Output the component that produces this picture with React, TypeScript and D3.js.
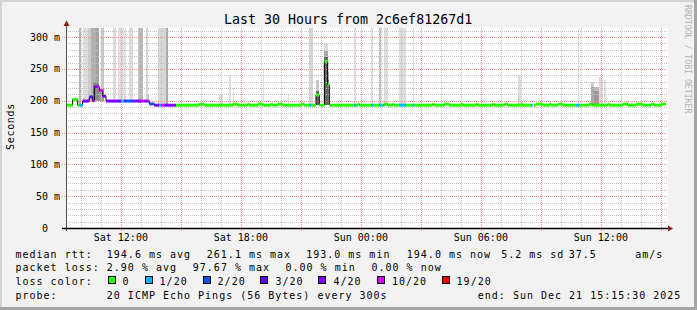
import React from 'react';
import * as d3 from 'd3';

const WIDTH = 697;
const HEIGHT = 310;

const startTime = new Date(2025, 11, 20, 9, 15, 30);
const endTime = new Date(2025, 11, 21, 15, 15, 30);
const stepMinutes = 5;
const yMaxMs = 314.3;

const titleText = 'Last 30 Hours from 2c6ef81267d1';
const yAxisTitle = 'Seconds';
const watermark = 'RRDTOOL / TOBI OETIKER';

const yMajorTicks = [0, 50, 100, 150, 200, 250, 300];
const yMajorLabels = ['0', '50 m', '100 m', '150 m', '200 m', '250 m', '300 m'];

const lossLabels = ['0', '1/20', '2/20', '3/20', '4/20', '10/20', '19/20'];
const lossColors = ['#26ff00', '#00b8ff', '#0059ff', '#5e00ff', '#7e00ff', '#dd00ff', '#ff0000'];

// median rtt (ms): flat level, slightly higher steps, loss blips, events
const baseRtt = 193;
const bumpRtt = 194.6;
// [startMin, endMin]
const bumps: [number, number][] = [
  [400, 415], [500, 515], [545, 550], [575, 590], [615, 620], [635, 650], [705, 715],
  [875, 880], [955, 965], [980, 985], [1100, 1105], [1135, 1150], [1185, 1190], [1230, 1235],
  [1280, 1285], [1315, 1325], [1365, 1370], [1410, 1430], [1450, 1455], [1475, 1490],
  [1570, 1580], [1625, 1630], [1670, 1685], [1710, 1730], [1755, 1765], [1785, 1800],
];
// [startMin, endMin, lossIndex]
const lossBlips: [number, number, number][] = [
  [730, 735, 1], [865, 870, 1], [915, 920, 1], [940, 945, 1], [950, 955, 1],
  [1000, 1020, 1], [1040, 1045, 1], [1395, 1400, 1], [1530, 1540, 1],
];
// [startMin, endMin, medianMs, lossIndex]
const events: [number, number, number, number][] = [
  [20, 35, 202, 0], [35, 40, 193, 0], [40, 50, 193, 1], [50, 70, 199.5, 4],
  [70, 80, 206, 3], [80, 85, 200, 4], [85, 95, 222, 4], [95, 100, 222, 5],
  [100, 110, 216, 5], [110, 120, 207, 4], [120, 165, 199.5, 4], [165, 175, 199.5, 1],
  [175, 180, 199.5, 4], [180, 200, 199.5, 2], [200, 225, 199.5, 4], [225, 235, 199.5, 5],
  [235, 245, 199.5, 4], [245, 250, 199.5, 5], [250, 265, 195, 2], [265, 280, 193, 4],
  [280, 285, 193, 1], [285, 295, 193, 5], [295, 330, 193, 4],
  [750, 760, 209, 0], [775, 785, 262, 0], [785, 790, 225, 0],
];
const gaps: [number, number][] = [[1400, 1405]];

// smoke: [startMin, endMin, lowMs, highMs, gray]
const smoke: [number, number, number, number, string][] = [
  [40, 45, 193, 330, '#b4b4b4'], [50, 65, 196, 330, '#dcdcdc'], [65, 75, 198, 330, '#cccccc'],
  [75, 90, 198, 330, '#b0b0b0'], [90, 100, 200, 330, '#a4a4a4'], [105, 115, 198, 330, '#c8c8c8'],
  [80, 100, 201, 230, '#888888'], [100, 115, 199, 220, '#9a9a9a'],
  [140, 150, 197, 330, '#dcdcdc'], [155, 180, 197, 330, '#e0e0e0'], [190, 200, 197, 330, '#dcdcdc'],
  [215, 220, 197, 330, '#cccccc'], [220, 230, 197, 330, '#b4b4b4'], [240, 245, 197, 330, '#d4d4d4'],
  [245, 250, 197, 209, '#bbbbbb'], [275, 300, 192, 330, '#d8d8d8'], [300, 305, 192, 330, '#a8a8a8'],
  [410, 415, 192, 201, '#dddddd'], [460, 470, 192, 210, '#dddddd'], [490, 495, 192, 240, '#dddddd'],
  [500, 505, 192, 220, '#dddddd'], [590, 595, 192, 251, '#dddddd'], [665, 670, 192, 209, '#dddddd'],
  [730, 740, 192, 330, '#d4d4d4'],
  [750, 760, 193, 232, '#c8c8c8'], [750, 760, 193, 215, '#666666'],
  [775, 785, 193, 290, '#d8d8d8'], [775, 785, 193, 278, '#aaaaaa'], [775, 785, 193, 268, '#666666'],
  [785, 790, 193, 245, '#c8c8c8'], [785, 790, 193, 232, '#888888'],
  [865, 870, 192, 330, '#dddddd'], [915, 920, 192, 330, '#dddddd'], [940, 945, 192, 330, '#c0c0c0'],
  [950, 955, 192, 201, '#dddddd'], [955, 965, 192, 330, '#dddddd'], [1000, 1020, 192, 330, '#dddddd'],
  [1040, 1045, 192, 330, '#dddddd'], [1355, 1365, 192, 240, '#dddddd'], [1355, 1360, 192, 205, '#bbbbbb'],
  [1535, 1540, 192, 330, '#dddddd'], [1575, 1585, 192, 230, '#cccccc'], [1575, 1585, 192, 222, '#aaaaaa'],
  [1585, 1600, 192, 222, '#bbbbbb'], [1585, 1600, 192, 216, '#999999'], [1600, 1610, 192, 237, '#dddddd'],
  [1615, 1620, 192, 232, '#dddddd'], [1680, 1685, 192, 201, '#dddddd'], [1695, 1700, 192, 200, '#dddddd'],
];

// legend texts
const rttItems = ['median rtt:', '194.6 ms avg', '261.1 ms max', '193.0 ms min', '194.0 ms now', '5.2 ms sd', '37.5', 'am/s'];
const lossItems = ['packet loss:', '2.90 % avg', '97.67 % max', '0.00 % min', '0.00 % now'];
const colorTitle = 'loss color:';
const probeItems = ['probe:', '20 ICMP Echo Pings (56 Bytes) every 300s', 'end: Sun Dec 21 15:15:30 2025'];

// layout
const rttX = [15.5, 106.8, 206.8, 306.2, 406.8, 501.2, 568.8, 635.2];
const lossX = [15.5, 106.8, 192.8, 285.5, 371.5];
const boxX = [108.5, 145.5, 203, 260.5, 318.5, 377, 442];
const boxLabelX = [122.6, 159.6, 217.6, 275.4, 333.4, 392, 456.6];
const probeX = [15.5, 106.8, 477.8];
const rowY = [257.5, 271.3, 285.2, 299];

const PLOT = { left: 66, right: 666, top: 28, bottom: 228 };
const MONO = '"DejaVu Sans Mono", monospace';

export default function App() {
  const x = d3.scaleTime().domain([startTime, endTime]).range([PLOT.left, PLOT.right]);
  const y = d3.scaleLinear().domain([0, yMaxMs]).range([PLOT.bottom, PLOT.top]);
  const tm = (m: number) => new Date(startTime.getTime() + m * 60000);
  const xm = (m: number) => x(tm(m));

  const nSteps = Math.round((endTime.getTime() - startTime.getTime()) / 60000 / stepMinutes);
  const steps = d3.range(nSteps).map((i) => ({ t0: i * stepMinutes, t1: (i + 1) * stepMinutes, v: baseRtt, loss: 0, ok: true }));
  const apply = (a: number, b: number, fn: (s: any) => void) => steps.forEach((s) => { if (s.t0 >= a && s.t1 <= b) fn(s); });
  bumps.forEach(([a, b]) => apply(a, b, (s) => { s.v = bumpRtt; }));
  lossBlips.forEach(([a, b, l]) => apply(a, b, (s) => { s.loss = l; }));
  events.forEach(([a, b, v, l]) => apply(a, b, (s) => { s.v = v; s.loss = l; }));
  gaps.forEach(([a, b]) => apply(a, b, (s) => { s.ok = false; }));

  // runs of equal value & color
  const runs: { t0: number; t1: number; v: number; loss: number }[] = [];
  steps.forEach((s) => {
    if (!s.ok) return;
    const last = runs[runs.length - 1];
    if (last && last.t1 === s.t0 && last.v === s.v && last.loss === s.loss) last.t1 = s.t1;
    else runs.push({ t0: s.t0, t1: s.t1, v: s.v, loss: s.loss });
  });

  const linePts: { m: number; v: number; ok: boolean }[] = [];
  steps.forEach((s, i) => {
    linePts.push({ m: s.t0, v: s.v, ok: s.ok });
    if (i === steps.length - 1) linePts.push({ m: s.t1, v: s.v, ok: s.ok });
  });
  const stepLine = d3.line<{ m: number; v: number; ok: boolean }>()
    .defined((d) => d.ok)
    .x((d) => xm(d.m))
    .y((d) => y(d.v))
    .curve(d3.curveStepAfter);

  const hours = d3.timeHour.range(startTime, endTime);
  const yMinor = d3.range(10, yMaxMs, 10).filter((v) => v % 50 !== 0);
  const fmt = d3.timeFormat('%a %H:%M');

  return (
    <svg width={WIDTH} height={HEIGHT} style={{ position: 'fixed', left: 0, top: 0 }} fontFamily={MONO}>
      <defs>
        <clipPath id="plotclip">
          <rect x={PLOT.left} y={PLOT.top} width={PLOT.right - PLOT.left + 2} height={PLOT.bottom - PLOT.top} />
        </clipPath>
      </defs>
      <rect x={0} y={0} width={WIDTH} height={HEIGHT} fill="#f2f2f2" />
      <rect x={0} y={0} width={WIDTH} height={2} fill="#d4d4d4" />
      <rect x={0} y={0} width={2} height={HEIGHT} fill="#d4d4d4" />
      <rect x={WIDTH - 3} y={0} width={3} height={HEIGHT} fill="#a4a4a4" />
      <rect x={0} y={HEIGHT - 3} width={WIDTH} height={3} fill="#a4a4a4" />
      <rect x={PLOT.left} y={PLOT.top} width={PLOT.right - PLOT.left + 2} height={PLOT.bottom - PLOT.top} fill="#ffffff" />

      {/* smoke */}
      <g clipPath="url(#plotclip)" shapeRendering="crispEdges">
        {smoke.map(([a, b, lo, hi, c], i) => (
          <rect key={i} x={xm(a)} y={y(hi)} width={xm(b) - xm(a)} height={y(lo) - y(hi)} fill={c} />
        ))}
      </g>

      {/* grid */}
      <g shapeRendering="crispEdges">
        {yMinor.map((v) => (
          <line key={'ym' + v} x1={PLOT.left} x2={PLOT.right + 2} y1={Math.round(y(v)) + 0.5} y2={Math.round(y(v)) + 0.5}
            stroke="#c4c4c4" strokeDasharray="1,1" />
        ))}
        {hours.filter((h) => h.getHours() % 3 !== 0).map((h) => (
          <line key={'xm' + h.getTime()} x1={Math.round(x(h)) + 0.5} x2={Math.round(x(h)) + 0.5} y1={PLOT.top} y2={PLOT.bottom + 2}
            stroke="#c4c4c4" strokeDasharray="1,1" />
        ))}
        {yMajorTicks.filter((v) => v > 0).map((v) => (
          <line key={'yM' + v} x1={PLOT.left - 4} x2={PLOT.right + 2} y1={Math.round(y(v)) + 0.5} y2={Math.round(y(v)) + 0.5}
            stroke="#ff8c8c" strokeDasharray="1,1" />
        ))}
        {hours.filter((h) => h.getHours() % 3 === 0).map((h) => (
          <line key={'xM' + h.getTime()} x1={Math.round(x(h)) + 0.5} x2={Math.round(x(h)) + 0.5} y1={PLOT.top} y2={PLOT.bottom + 4}
            stroke="#ff8c8c" strokeDasharray="1,1" />
        ))}
      </g>

      {/* median */}
      <g clipPath="url(#plotclip)">
        <path d={stepLine(linePts) || ''} fill="none" stroke="#000" strokeWidth={1} />
        {runs.map((r, i) => (
          <line key={i} x1={xm(r.t0)} x2={xm(r.t1)} y1={y(r.v)} y2={y(r.v)} stroke={lossColors[r.loss]} strokeWidth={3} />
        ))}
      </g>

      {/* axes */}
      <line x1={PLOT.left + 0.5} x2={PLOT.left + 0.5} y1={PLOT.bottom + 3} y2={PLOT.top - 6} stroke="#505050" shapeRendering="crispEdges" />
      <line x1={PLOT.left - 4} x2={PLOT.right + 2} y1={PLOT.bottom + 0.5} y2={PLOT.bottom + 0.5} stroke="#000" strokeWidth={1.3} />
      <path d={`M${PLOT.left - 2.5},${PLOT.top - 2} L${PLOT.left + 3.5},${PLOT.top - 2} L${PLOT.left + 0.5},${PLOT.top - 7.5} Z`} fill="#8b1a1a" />
      <path d={`M${PLOT.right + 2},${PLOT.bottom - 2.5} L${PLOT.right + 2},${PLOT.bottom + 3.5} L${PLOT.right + 7},${PLOT.bottom + 0.5} Z`} fill="#8b1a1a" />

      {/* y labels */}
      {yMajorTicks.map((v, i) => (
        <text key={'yl' + v} x={v === 0 ? 48 : 60} y={y(v) + 3.5} textAnchor="end" fontSize={10} fill="#000">{yMajorLabels[i]}</text>
      ))}
      {/* x labels */}
      {hours.filter((h) => h.getHours() % 6 === 0).map((h) => (
        <text key={'xl' + h.getTime()} x={x(h)} y={241} textAnchor="middle" fontSize={10} fill="#000">{fmt(h)}</text>
      ))}

      <text x={224} y={24} fontSize={13.3} fill="#000">{titleText}</text>
      <text transform={`translate(14,126.5) rotate(-90)`} textAnchor="middle" fontSize={10} letterSpacing={0.7} fill="#000">{yAxisTitle}</text>
      <text transform={`translate(684.5,5) rotate(90)`} fontSize={8.2} fill="#b4b4b4">{watermark}</text>

      {/* legend */}
      <g fontSize={10} letterSpacing={1} fill="#000">
        {rttItems.map((s, i) => <text key={'r' + i} x={rttX[i]} y={rowY[0]}>{s}</text>)}
        {lossItems.map((s, i) => <text key={'l' + i} x={lossX[i]} y={rowY[1]}>{s}</text>)}
        <text x={15.5} y={rowY[2]}>{colorTitle}</text>
        {lossLabels.map((s, i) => (
          <g key={'c' + i}>
            <rect x={boxX[i]} y={276.5} width={7} height={7} fill={lossColors[i]} stroke="#000" strokeWidth={1} shapeRendering="crispEdges" />
            <text x={boxLabelX[i]} y={rowY[2]}>{s}</text>
          </g>
        ))}
        {probeItems.map((s, i) => <text key={'p' + i} x={probeX[i]} y={rowY[3]}>{s}</text>)}
      </g>
    </svg>
  );
}
